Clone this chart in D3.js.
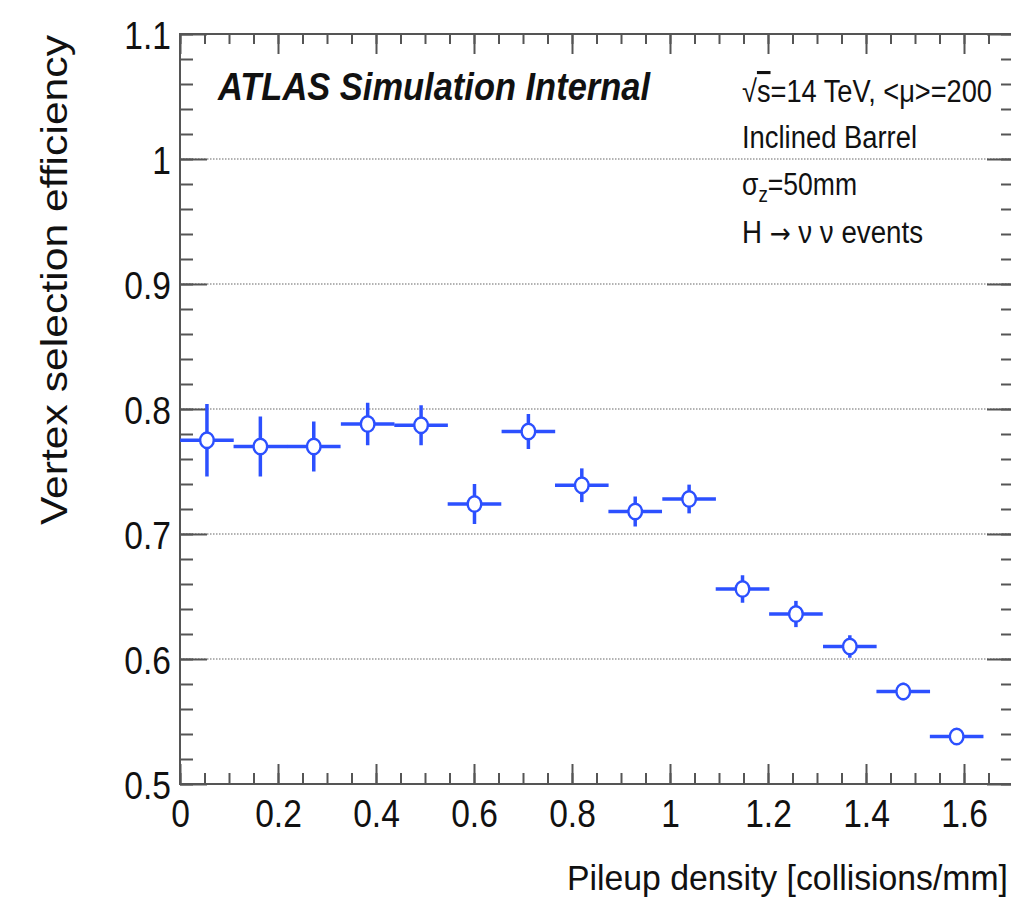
<!DOCTYPE html>
<html>
<head>
<meta charset="utf-8">
<script src="https://cdn.jsdelivr.net/npm/d3@7"></script>
<style>
  body { margin: 0; background: #fff; }
  text { font-family: "Liberation Sans", Arial, Helvetica, sans-serif; fill: #111; }
</style>
</head>
<body>
<div id="chart"></div>
<script>
// bin centres and values
var xCenters = [0.055, 0.164, 0.273, 0.383, 0.492, 0.601, 0.711, 0.820, 0.929, 1.039, 1.148, 1.257, 1.367, 1.476, 1.585];
var xErr = [0.0547, 0.0547, 0.0547, 0.0547, 0.0547, 0.0547, 0.0547, 0.0547, 0.0547, 0.0547, 0.0547, 0.0547, 0.0547, 0.0547, 0.0547];
var effValues = [0.775, 0.770, 0.770, 0.788, 0.787, 0.724, 0.782, 0.739, 0.718, 0.728, 0.656, 0.636, 0.610, 0.574, 0.538];
var effErr = [0.029, 0.024, 0.020, 0.017, 0.016, 0.016, 0.014, 0.0135, 0.012, 0.0115, 0.011, 0.0105, 0.009, 0.007, 0.006];

var xTicks = [0, 0.2, 0.4, 0.6, 0.8, 1, 1.2, 1.4, 1.6];
var yTicks = [0.5, 0.6, 0.7, 0.8, 0.9, 1, 1.1];
var infoLines = ["Inclined Barrel"];

var width = 1011, height = 905;
var squeeze = 0.86; // the original picture is a bit narrow horizontally

var x = d3.scaleLinear().domain([0, 1.7]).range([180, 1013]);
var y = d3.scaleLinear().domain([0.5, 1.1]).range([784, 34]);

var svg = d3.select('#chart').append('svg')
    .attr('width', width)
    .attr('height', height);

svg.append('rect').attr('width', width).attr('height', height).attr('fill', '#fff');

function narrow(sel, k) {
    sel.each(function () {
        var len = this.getComputedTextLength();
        d3.select(this).attr('textLength', len * k).attr('lengthAdjust', 'spacingAndGlyphs');
    });
}

// dotted grid lines at the major y ticks
svg.append('g').selectAll('line')
    .data(yTicks.filter(function (d) { return d > 0.5 && d < 1.1; }))
    .enter().append('line')
    .attr('x1', x(0))
    .attr('x2', x(1.7))
    .attr('y1', function (d) { return y(d); })
    .attr('y2', function (d) { return y(d); })
    .attr('stroke', '#999')
    .attr('stroke-width', 1.6)
    .attr('stroke-dasharray', '1.5,1.5');

var xMinor = d3.range(0, 1.7001, 0.05).map(function (d) { return +d.toFixed(2); });
var yMinor = d3.range(0.5, 1.1001, 0.02).map(function (d) { return +d.toFixed(2); });

function styleAxis(g) {
    g.select('.domain').remove();
    g.selectAll('line').attr('stroke', '#555').attr('stroke-width', 2);
}

// bottom
svg.append('g').attr('transform', 'translate(0,' + y(0.5) + ')')
    .call(d3.axisBottom(x).tickValues(xMinor).tickSize(-11).tickFormat(''))
    .call(styleAxis);
var bottom = svg.append('g').attr('transform', 'translate(0,' + y(0.5) + ')')
    .call(d3.axisBottom(x).tickValues(xTicks).tickSize(-20).tickPadding(0).tickFormat(d3.format('')))
    .call(styleAxis);
bottom.selectAll('text')
    .attr('font-size', 39)
    .attr('dy', 0)
    .attr('y', 43)
    .attr('fill', '#111')
    .call(narrow, squeeze);

// top
svg.append('g').attr('transform', 'translate(0,' + y(1.1) + ')')
    .call(d3.axisTop(x).tickValues(xMinor).tickSize(-10).tickFormat(''))
    .call(styleAxis);
svg.append('g').attr('transform', 'translate(0,' + y(1.1) + ')')
    .call(d3.axisTop(x).tickValues(xTicks).tickSize(-20).tickFormat(''))
    .call(styleAxis);

// left
svg.append('g').attr('transform', 'translate(' + x(0) + ',0)')
    .call(d3.axisLeft(y).tickValues(yMinor).tickSize(-13).tickFormat(''))
    .call(styleAxis);
var left = svg.append('g').attr('transform', 'translate(' + x(0) + ',0)')
    .call(d3.axisLeft(y).tickValues(yTicks).tickSize(-27).tickPadding(9).tickFormat(d3.format('')))
    .call(styleAxis);
left.selectAll('text')
    .attr('font-size', 39)
    .attr('dy', '0.36em')
    .attr('fill', '#111')
    .call(narrow, squeeze);

// right
svg.append('g').attr('transform', 'translate(' + x(1.7) + ',0)')
    .call(d3.axisRight(y).tickValues(yMinor).tickSize(-12).tickFormat(''))
    .call(styleAxis);
svg.append('g').attr('transform', 'translate(' + x(1.7) + ',0)')
    .call(d3.axisRight(y).tickValues(yTicks).tickSize(-26).tickFormat(''))
    .call(styleAxis);

// frame
svg.append('rect')
    .attr('x', x(0)).attr('y', y(1.1))
    .attr('width', x(1.7) - x(0)).attr('height', y(0.5) - y(1.1))
    .attr('fill', 'none').attr('stroke', '#555').attr('stroke-width', 2);

// data points
var points = xCenters.map(function (d, i) {
    return { x: d, ex: xErr[i], y: effValues[i], ey: effErr[i] };
});
var blue = '#2c50ff';
var pts = svg.append('g').selectAll('g').data(points).enter().append('g');
pts.append('line')
    .attr('x1', function (d) { return x(d.x - d.ex); })
    .attr('x2', function (d) { return x(d.x + d.ex); })
    .attr('y1', function (d) { return y(d.y); })
    .attr('y2', function (d) { return y(d.y); })
    .attr('stroke', blue).attr('stroke-width', 3.5);
pts.append('line')
    .attr('x1', function (d) { return x(d.x); })
    .attr('x2', function (d) { return x(d.x); })
    .attr('y1', function (d) { return y(d.y - d.ey); })
    .attr('y2', function (d) { return y(d.y + d.ey); })
    .attr('stroke', blue).attr('stroke-width', 3.5);
pts.append('ellipse')
    .attr('cx', function (d) { return x(d.x); })
    .attr('cy', function (d) { return y(d.y); })
    .attr('rx', 6.8).attr('ry', 7.8)
    .attr('fill', '#fff').attr('stroke', blue).attr('stroke-width', 2.4);

// labels
svg.append('text')
    .attr('x', 1008).attr('y', 890)
    .attr('text-anchor', 'end')
    .attr('font-size', 35)
    .attr('textLength', 441).attr('lengthAdjust', 'spacingAndGlyphs')
    .text('Pileup density [collisions/mm]');

svg.append('text')
    .attr('transform', 'translate(67,35) rotate(-90)')
    .attr('text-anchor', 'end')
    .attr('font-size', 36)
    .attr('textLength', 490).attr('lengthAdjust', 'spacingAndGlyphs')
    .text('Vertex selection efficiency');

svg.append('text')
    .attr('x', 218).attr('y', 100)
    .attr('font-size', 38)
    .attr('font-weight', 'bold').attr('font-style', 'italic')
    .attr('textLength', 432).attr('lengthAdjust', 'spacingAndGlyphs')
    .text('ATLAS Simulation Internal');

var info = svg.append('g').attr('font-size', 31);
var t1 = info.append('text').attr('x', 742).attr('y', 102)
    .attr('textLength', 250).attr('lengthAdjust', 'spacingAndGlyphs');
t1.append('tspan').text('√');
t1.append('tspan').style('text-decoration', 'overline').text('s');
t1.append('tspan').text('=14 TeV, <μ>=200');

info.append('text').attr('x', 742).attr('y', 148)
    .attr('textLength', 175).attr('lengthAdjust', 'spacingAndGlyphs')
    .text(infoLines[0]);

var t3 = info.append('text').attr('x', 742).attr('y', 195)
    .attr('textLength', 115).attr('lengthAdjust', 'spacingAndGlyphs');
t3.append('tspan').text('σ');
t3.append('tspan').attr('font-size', 22).attr('dy', 7).text('z');
t3.append('tspan').attr('dy', -7).text('=50mm');

var t4 = info.append('text').attr('x', 742).attr('y', 243)
    .attr('textLength', 181).attr('lengthAdjust', 'spacingAndGlyphs');
t4.append('tspan').text('H ');
t4.append('tspan').style('font-family', '"DejaVu Sans", sans-serif').attr('font-size', 28).text('→');
t4.append('tspan').text(' ν ν events');
</script>
</body>
</html>
